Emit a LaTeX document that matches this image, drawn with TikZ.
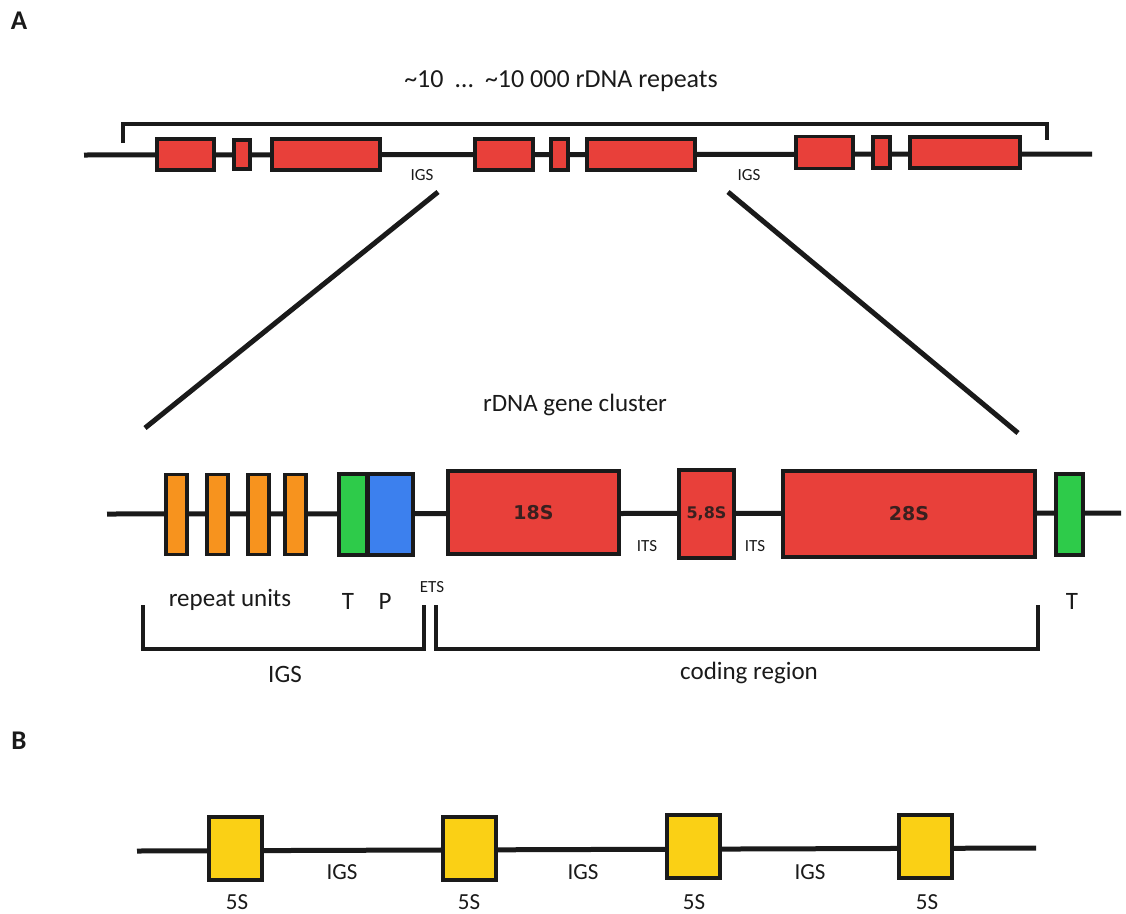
\documentclass[tikz,border=0pt]{standalone}
\usepackage{fontspec}
\setmainfont{Carlito}
\newfontfamily\genefont{DejaVu Sans}
\definecolor{ink}{HTML}{1A1A1A}
\definecolor{redfill}{HTML}{E8403A}
\definecolor{orangefill}{HTML}{F7931E}
\definecolor{greenfill}{HTML}{2ECB4A}
\definecolor{bluefill}{HTML}{3C80EE}
\definecolor{yellowfill}{HTML}{FAD015}
\begin{document}
\begin{tikzpicture}[x=1pt,y=-1pt,
  dna/.style={draw=ink, line width=5pt},
  brk/.style={draw=ink, line width=4.5pt, line join=miter},
  diag/.style={draw=ink, line width=5pt},
  gbox/.style={draw=ink, line width=3.5pt, inner sep=0pt, rectangle},
  redb/.style={gbox, fill=redfill},
  orab/.style={gbox, fill=orangefill},
  grnb/.style={gbox, fill=greenfill},
  blub/.style={gbox, fill=bluefill},
  yelb/.style={gbox, fill=yellowfill},
  lbl/.style={font=\fontsize{25}{28}\selectfont, text=ink, inner sep=0pt},
  small/.style={font=\fontsize{17}{19}\selectfont, text=ink, inner sep=0pt},
  genelbl/.style={font=\genefont\bfseries\fontsize{19}{21}\selectfont, text=ink!85!redfill, inner sep=0pt},
  panel/.style={font=\bfseries\fontsize{27}{30}\selectfont, text=ink, inner sep=0pt}
]
\useasboundingbox (0,0) rectangle (1126,913);

% ---------- Panel A, top ----------
\node[panel] (A) at (19,21) {A};
\node[lbl, font=\fontsize{26}{28}\selectfont] (title) at (561,81) {\textasciitilde 10\ \ \ldots\ \ \textasciitilde 10 000 rDNA repeats};

\coordinate (tb1) at (123,143);
\coordinate (tb2) at (1047,140);
\draw[brk] (tb1) -- ++(0,-19) -| (tb2);

\coordinate (tl) at (84,155);
\coordinate (tr) at (1092,154);
\draw[dna] (tl) -- (tr);

\node[redb, minimum width=57, minimum height=31] (t1) at (185.5,154.5) {};
\node[redb, minimum width=16, minimum height=29] (t2) at (242,154.5) {};
\node[redb, minimum width=108, minimum height=31] (t3) at (326,154.5) {};
\node[redb, minimum width=58, minimum height=31] (t4) at (504,154.5) {};
\node[redb, minimum width=17, minimum height=31] (t5) at (559.5,154.5) {};
\node[redb, minimum width=108, minimum height=31] (t6) at (641,154.5) {};
\node[redb, minimum width=57, minimum height=32] (t7) at (824.5,152.5) {};
\node[redb, minimum width=17, minimum height=31] (t8) at (881.5,152.5) {};
\node[redb, minimum width=110, minimum height=31] (t9) at (965,152.5) {};

\node[small] (igs1) at (422,175) {IGS};
\node[small] (igs2) at (749,175) {IGS};

\coordinate (d1a) at (438,192);
\coordinate (d1b) at (145,428);
\coordinate (d2a) at (728,192);
\coordinate (d2b) at (1018,433);
\draw[diag] (d1a) -- (d1b);
\draw[diag] (d2a) -- (d2b);

% ---------- Panel A, gene cluster ----------
\node[lbl] (cluster) at (575,405) {rDNA gene cluster};

\coordinate (ml) at (107,514);
\coordinate (mr) at (1121,513);
\draw[dna] (ml) -- (mr);

\node[orab, minimum width=21, minimum height=80] (o1) at (176.5,514.5) {};
\node[orab, minimum width=21, minimum height=80] (o2) at (217.5,514.5) {};
\node[orab, minimum width=21, minimum height=80] (o3) at (258.5,514.5) {};
\node[orab, minimum width=21, minimum height=80] (o4) at (295.5,514.5) {};
\node[grnb, minimum width=28, minimum height=81] (g1) at (353,514.5) {};
\node[blub, minimum width=45, minimum height=81] (b1) at (390.5,514.5) {};
\node[redb, minimum width=171, minimum height=83] (s18) at (533.5,512.5) {};
\node[genelbl] at (s18) {18S};
\node[redb, minimum width=55, minimum height=88] (s58) at (706.5,514) {};
\node[genelbl, font=\genefont\bfseries\fontsize{16}{18}\selectfont] at (s58) {5,8S};
\node[redb, minimum width=252, minimum height=86] (s28) at (909,514) {};
\node[genelbl] at (s28) {28S};
\node[grnb, minimum width=27, minimum height=81] (g2) at (1069.5,514.5) {};

\node[small] (its1) at (647,546) {ITS};
\node[small] (its2) at (755,546) {ITS};

\node[lbl] (ru) at (230,600) {repeat units};
\node[lbl] (T1) at (348,601) {T};
\node[lbl] (P) at (385,601) {P};
\node[small] (ets) at (432,587) {ETS};
\node[lbl] (T2) at (1072,601) {T};

\coordinate (ib1) at (143,605);
\coordinate (ib2) at (424,605);
\draw[brk] (ib1) -- ++(0,44) -| (ib2);
\coordinate (cb1) at (436,605);
\coordinate (cb2) at (1038,605);
\draw[brk] (cb1) -- ++(0,44) -| (cb2);

\node[lbl] (igsL) at (285,674) {IGS};
\node[lbl] (coding) at (749,673) {coding region};

% ---------- Panel B ----------
\node[panel] (B) at (19,741) {B};

\coordinate (bl) at (137,851);
\coordinate (br) at (1036,848);
\draw[dna] (bl) -- (br);

\node[yelb, minimum width=53, minimum height=63] (f1) at (235.5,848.5) {};
\node[yelb, minimum width=53, minimum height=63] (f2) at (469.5,848.5) {};
\node[yelb, minimum width=53, minimum height=63] (f3) at (693.5,846.5) {};
\node[yelb, minimum width=53, minimum height=63] (f4) at (925.5,846.5) {};

\node[lbl, font=\fontsize{23}{25}\selectfont] (bi1) at (342,872) {IGS};
\node[lbl, font=\fontsize{23}{25}\selectfont] (bi2) at (583,872) {IGS};
\node[lbl, font=\fontsize{23}{25}\selectfont] (bi3) at (810,872) {IGS};

\node[lbl, font=\fontsize{23}{25}\selectfont] (l1) at (237,902) {5S};
\node[lbl, font=\fontsize{23}{25}\selectfont] (l2) at (469,902) {5S};
\node[lbl, font=\fontsize{23}{25}\selectfont] (l3) at (694,902) {5S};
\node[lbl, font=\fontsize{23}{25}\selectfont] (l4) at (927,902) {5S};
\end{tikzpicture}
\end{document}
